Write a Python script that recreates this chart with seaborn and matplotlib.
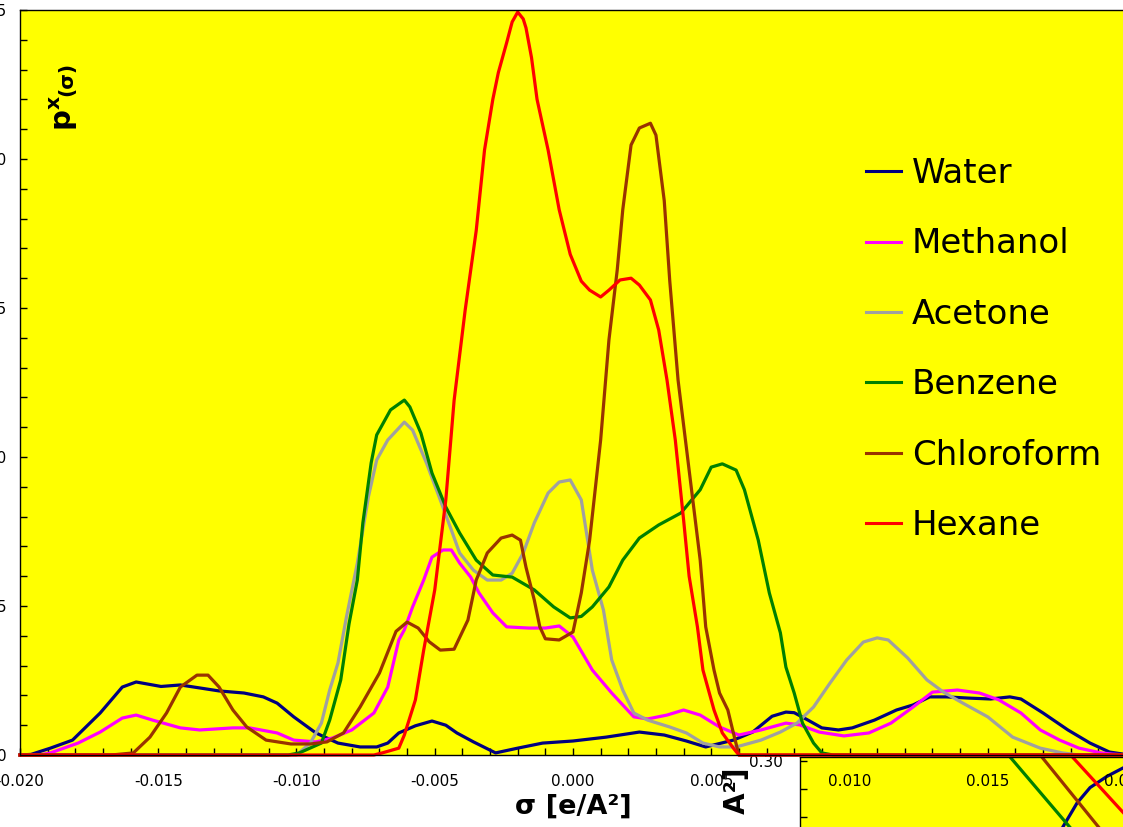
import matplotlib
matplotlib.use("Agg")
import matplotlib.pyplot as plt
from matplotlib.ticker import MultipleLocator, FuncFormatter
import pandas as pd
import seaborn as sns

# ---- sigma profiles p^x(sigma) ----
solvents = ["Water", "Methanol", "Acetone", "Benzene", "Chloroform", "Hexane"]
colors = ["#000080", "#FF00FF", "#A0A0A0", "#008000", "#993300", "#FF0000"]

water_sigma = [-0.0200, -0.0196, -0.0189, -0.0181, -0.0171, -0.0163, -0.0158, -0.0149, -0.0142,
               -0.0135, -0.0128, -0.0119, -0.0112, -0.0107, -0.0101, -0.0093, -0.0085, -0.0077,
               -0.0071, -0.0067, -0.0063, -0.0057, -0.0051, -0.0046, -0.0042, -0.0036, -0.0028,
               -0.0020, -0.0011, 0.0000, 0.0012, 0.0024, 0.0033, 0.0041, 0.0048, 0.0058, 0.0065,
               0.0072, 0.0077, 0.0080, 0.0085, 0.0090, 0.0096, 0.0101, 0.0109, 0.0117, 0.0123,
               0.0129, 0.0135, 0.0143, 0.0151, 0.0158, 0.0162, 0.0170, 0.0179, 0.0187, 0.0194,
               0.0199, 0.0200]
water_p = [0.0, 0.02, 0.23, 0.50, 1.41, 2.28, 2.45, 2.30, 2.35,
           2.25, 2.15, 2.08, 1.95, 1.74, 1.28, 0.74, 0.40, 0.27,
           0.27, 0.40, 0.74, 0.98, 1.14, 1.00, 0.74, 0.44, 0.07,
           0.23, 0.40, 0.47, 0.60, 0.77, 0.67, 0.47, 0.27, 0.50, 0.77,
           1.30, 1.44, 1.42, 1.17, 0.91, 0.84, 0.91, 1.17, 1.51, 1.68,
           1.95, 1.95, 1.91, 1.88, 1.95, 1.88, 1.41, 0.84, 0.40, 0.10,
           0.03, 0.0]

methanol_sigma = [-0.0200, -0.0193, -0.0189, -0.0179, -0.0171, -0.0163, -0.0158, -0.0152, -0.0142,
                  -0.0135, -0.0123, -0.0117, -0.0107, -0.0101, -0.0093, -0.0087, -0.0080, -0.0072,
                  -0.0067, -0.0063, -0.0061, -0.0058, -0.0054, -0.0051, -0.0047, -0.0044, -0.0041,
                  -0.0037, -0.0034, -0.0029, -0.0024, -0.0016, -0.0010, -0.0005, 0.0000, 0.0007,
                  0.0014, 0.0022, 0.0027, 0.0034, 0.0040, 0.0046, 0.0053, 0.0060, 0.0068, 0.0077,
                  0.0082, 0.0089, 0.0098, 0.0107, 0.0115, 0.0123, 0.0130, 0.0139, 0.0147, 0.0154,
                  0.0162, 0.0169, 0.0176, 0.0183, 0.0191, 0.0195, 0.0200]
methanol_p = [0.0, 0.0, 0.07, 0.40, 0.77, 1.24, 1.34, 1.17, 0.91,
              0.84, 0.91, 0.91, 0.74, 0.50, 0.44, 0.57, 0.84, 1.41,
              2.28, 3.86, 4.20, 4.97, 5.87, 6.64, 6.88, 6.88, 6.44,
              5.97, 5.44, 4.77, 4.30, 4.26, 4.26, 4.33, 3.96, 2.85,
              2.08, 1.28, 1.21, 1.34, 1.51, 1.34, 0.94, 0.67, 0.84, 1.07,
              1.01, 0.77, 0.64, 0.74, 1.07, 1.61, 2.11, 2.18, 2.08, 1.85,
              1.41, 0.84, 0.50, 0.23, 0.07, 0.03, 0.0]

acetone_sigma = [-0.0200, -0.0100, -0.0095, -0.0091, -0.0088, -0.0085, -0.0082, -0.0078, -0.0074,
                 -0.0071, -0.0067, -0.0061, -0.0058, -0.0053, -0.0048, -0.0044, -0.0041, -0.0036,
                 -0.0031, -0.0026, -0.0022, -0.0018, -0.0014, -0.0009, -0.0005, -0.0001, 0.0003,
                 0.0007, 0.0011, 0.0014, 0.0018, 0.0022, 0.0027, 0.0035, 0.0041, 0.0047, 0.0053,
                 0.0059, 0.0068, 0.0075, 0.0081, 0.0087, 0.0093, 0.0099, 0.0105, 0.0110, 0.0114,
                 0.0121, 0.0128, 0.0134, 0.0141, 0.0150, 0.0159, 0.0169, 0.0177, 0.0183, 0.0200]
acetone_p = [0.0, 0.0, 0.40, 1.07, 2.18, 3.09, 4.60, 6.44, 8.66,
             9.90, 10.57, 11.17, 10.90, 9.80, 8.56, 7.55, 6.78, 6.20,
             5.87, 5.87, 6.10, 6.78, 7.79, 8.79, 9.16, 9.23, 8.56,
             6.20, 4.87, 3.19, 2.18, 1.41, 1.17, 0.94, 0.74, 0.40, 0.27,
             0.27, 0.50, 0.77, 1.07, 1.61, 2.42, 3.19, 3.79, 3.93, 3.86,
             3.26, 2.52, 2.11, 1.74, 1.28, 0.60, 0.23, 0.07, 0.0, 0.0]

benzene_sigma = [-0.0200, -0.0103, -0.0099, -0.0091, -0.0088, -0.0084, -0.0081, -0.0078, -0.0076,
                 -0.0073, -0.0071, -0.0066, -0.0061, -0.0059, -0.0055, -0.0051, -0.0046, -0.0041,
                 -0.0035, -0.0029, -0.0022, -0.0014, -0.0007, -0.0001, 0.0003, 0.0007, 0.0013,
                 0.0018, 0.0024, 0.0031, 0.0039, 0.0046, 0.0050, 0.0054, 0.0059, 0.0062, 0.0067,
                 0.0071, 0.0075, 0.0077, 0.0080, 0.0083, 0.0087, 0.0090, 0.0094, 0.0200]
benzene_p = [0.0, 0.0, 0.07, 0.40, 1.17, 2.52, 4.40, 5.87, 7.79,
             9.80, 10.74, 11.58, 11.91, 11.68, 10.80, 9.46, 8.32, 7.45,
             6.54, 6.04, 5.97, 5.54, 4.97, 4.60, 4.65, 4.97, 5.64,
             6.54, 7.28, 7.72, 8.12, 8.90, 9.66, 9.77, 9.56, 8.90, 7.21,
             5.44, 4.10, 2.95, 2.08, 1.07, 0.40, 0.07, 0.0, 0.0]

chloroform_sigma = [-0.0200, -0.0167, -0.0159, -0.0153, -0.0147, -0.0142, -0.0136, -0.0132, -0.0128,
                    -0.0123, -0.0118, -0.0111, -0.0102, -0.0095, -0.0089, -0.0083, -0.0077, -0.0070,
                    -0.0064, -0.0060, -0.0056, -0.0052, -0.0048, -0.0043, -0.0038, -0.0035, -0.0031,
                    -0.0026, -0.0022, -0.0019, -0.0017, -0.0014, -0.0012, -0.0010, -0.0005, 0.0000,
                    0.0003, 0.0006, 0.0010, 0.0013, 0.0016, 0.0018, 0.0021, 0.0024, 0.0028, 0.0030,
                    0.0033, 0.0035, 0.0038, 0.0042, 0.0046, 0.0048, 0.0051, 0.0053, 0.0056, 0.0058,
                    0.0060, 0.0200]
chloroform_p = [0.0, 0.0, 0.07, 0.60, 1.41, 2.28, 2.68, 2.68, 2.28,
                1.51, 0.94, 0.50, 0.37, 0.37, 0.44, 0.74, 1.61, 2.75,
                4.15, 4.46, 4.26, 3.80, 3.52, 3.55, 4.53, 5.87, 6.78,
                7.28, 7.38, 7.21, 6.30, 5.20, 4.30, 3.90, 3.86, 4.13,
                5.44, 7.20, 10.57, 13.93, 16.28, 18.30, 20.47, 21.04, 21.20, 20.80,
                18.60, 15.90, 12.58, 9.56, 6.54, 4.30, 2.85, 2.08, 1.51, 0.74,
                0.0, 0.0]

hexane_sigma = [-0.0200, -0.0072, -0.0069, -0.0063, -0.0061, -0.0057, -0.0054, -0.0050, -0.0046,
                -0.0043, -0.0039, -0.0035, -0.0032, -0.0029, -0.0027, -0.0024, -0.0022, -0.0020,
                -0.0018, -0.0017, -0.0015, -0.0013, -0.0009, -0.0005, -0.0001, 0.0003, 0.0006,
                0.0010, 0.0013, 0.0017, 0.0021, 0.0024, 0.0028, 0.0031, 0.0034, 0.0037, 0.0040,
                0.0042, 0.0045, 0.0047, 0.0051, 0.0054, 0.0058, 0.0060, 0.0200]
hexane_p = [0.0, 0.0, 0.07, 0.23, 0.67, 1.85, 3.52, 5.54, 8.56,
            11.90, 14.93, 17.60, 20.30, 22.00, 22.90, 23.90, 24.60, 24.93,
            24.70, 24.40, 23.40, 22.00, 20.30, 18.30, 16.80, 15.90, 15.60,
            15.37, 15.60, 15.94, 16.00, 15.77, 15.27, 14.26, 12.58, 10.57, 7.89,
            6.00, 4.30, 2.85, 1.51, 0.74, 0.23, 0.0, 0.0]

# ---- sigma potentials (partly visible panel) ----
pot_solvents = ["Water", "Benzene", "Chloroform", "Hexane"]
pot_colors = ["#000080", "#008000", "#993300", "#FF0000"]
pot_water_sigma = [0.0170, 0.01772, 0.01823, 0.01870, 0.01931, 0.01989, 0.0205]
pot_water_mu = [0.225, 0.253, 0.270, 0.281, 0.289, 0.295, 0.299]
pot_benzene_sigma = [0.0155, 0.0180, 0.0205]
pot_benzene_mu = [0.310, 0.252, 0.195]
pot_chloroform_sigma = [0.0165, 0.0190, 0.0215]
pot_chloroform_mu = [0.314, 0.253, 0.191]
pot_hexane_sigma = [0.0175, 0.0200, 0.0225]
pot_hexane_mu = [0.315, 0.261, 0.207]

profiles = pd.concat([
    pd.DataFrame({"sigma": s, "p": p, "solvent": name})
    for name, s, p in zip(solvents,
                          [water_sigma, methanol_sigma, acetone_sigma, benzene_sigma,
                           chloroform_sigma, hexane_sigma],
                          [water_p, methanol_p, acetone_p, benzene_p, chloroform_p, hexane_p])
], ignore_index=True)

potentials = pd.concat([
    pd.DataFrame({"sigma": s, "mu": m, "solvent": name})
    for name, s, m in zip(pot_solvents,
                          [pot_water_sigma, pot_benzene_sigma, pot_chloroform_sigma, pot_hexane_sigma],
                          [pot_water_mu, pot_benzene_mu, pot_chloroform_mu, pot_hexane_mu])
], ignore_index=True)

plt.rcParams["font.family"] = ["DejaVu Sans"]
W, H = 1123, 827
fig = plt.figure(figsize=(W / 100, H / 100), dpi=100, facecolor="white")

YELLOW = "#FFFF00"

# main sigma-profile axes
ax = fig.add_axes([20 / W, (H - 755) / H, 1106 / W, 745 / H], zorder=2)
ax.set_facecolor(YELLOW)
sns.lineplot(data=profiles, x="sigma", y="p", hue="solvent", hue_order=solvents,
             palette=colors, linewidth=2.3, sort=False, estimator=None,
             clip_on=False, ax=ax)
ax.set_xlim(-0.020, 0.020)
ax.set_ylim(0, 25)
ax.xaxis.set_major_locator(MultipleLocator(0.005))
ax.xaxis.set_minor_locator(MultipleLocator(0.001))
ax.yaxis.set_major_locator(MultipleLocator(5))
ax.yaxis.set_minor_locator(MultipleLocator(1))
ax.xaxis.set_major_formatter(FuncFormatter(lambda v, _: f"{round(v, 3) + 0.0:.3f}"))
ax.yaxis.set_major_formatter(FuncFormatter(lambda v, _: f"{int(round(v))}"))
ax.tick_params(which="both", direction="in", length=5, width=1, color="black",
               labelsize=11, top=False, right=False)
ax.tick_params(axis="x", which="both", pad=14)
ax.tick_params(axis="y", which="both", pad=9.5)
for side in ["top", "left", "bottom"]:
    ax.spines[side].set_color("black")
    ax.spines[side].set_linewidth(1)
ax.spines["right"].set_visible(False)

ax.set_ylabel("")
ax.set_xlabel("σ [e/A²]", fontsize=19.5, fontweight="bold", va="top")
ax.xaxis.set_label_coords(0.5, -(794 - 755) / 745)

handles, labels = ax.get_legend_handles_labels()
leg = ax.legend(handles, labels, loc="upper left",
                bbox_to_anchor=(866 / W, 1 - 157 / H), bbox_transform=fig.transFigure,
                frameon=False, fontsize=24.5, handlelength=1.03, handletextpad=0.32,
                labelspacing=1.1, borderpad=0, borderaxespad=0)
for line in leg.get_lines():
    line.set_linewidth(2.2)

# axis title drawn inside the plot area
fig.text(72 / W, 1 - 131 / H, r"$\mathbf{p^{x}}$", rotation=90, rotation_mode="anchor",
         ha="left", va="baseline", fontsize=21, zorder=5)
fig.text(72 / W, 1 - 96 / H, "(σ)", rotation=90, rotation_mode="anchor",
         ha="left", va="baseline", fontsize=14.5, fontweight="bold", zorder=5)

# sigma-potential panel, mostly outside the canvas
bx = fig.add_axes([800 / W, (H - 1057) / H, 600 / W, 300 / H], zorder=1)
bx.set_facecolor(YELLOW)
sns.lineplot(data=potentials, x="sigma", y="mu", hue="solvent", hue_order=pot_solvents,
             palette=pot_colors, linewidth=2.3, sort=False, estimator=None,
             legend=False, ax=bx)
px = 0.001 / 27.65
bx.set_xlim(-0.020 + (800 - 20) * px, -0.020 + (1400 - 20) * px)
bx.set_ylim(0.30 - (1057 - 761) * 0.02 / 28, 0.30 + (761 - 757) * 0.02 / 28)
bx.yaxis.set_major_locator(MultipleLocator(0.1))
bx.yaxis.set_minor_locator(MultipleLocator(0.02))
bx.yaxis.set_major_formatter(FuncFormatter(lambda v, _: f"{v:.2f}"))
bx.tick_params(axis="y", which="both", direction="in", length=5, width=1,
               labelsize=11, pad=12)
bx.tick_params(axis="x", which="both", bottom=False, labelbottom=False)
bx.set_xlabel("")
bx.set_ylabel("")
for side in ["top", "left"]:
    bx.spines[side].set_color("black")
    bx.spines[side].set_linewidth(1)

fig.text(745 / W, 1 - 767 / H, "μ(σ)  [kcal/mol  A²]", rotation=90, rotation_mode="anchor",
         ha="right", va="baseline", fontsize=20, fontweight="bold", zorder=5)

fig.savefig("out.png", dpi=100, facecolor="white")
